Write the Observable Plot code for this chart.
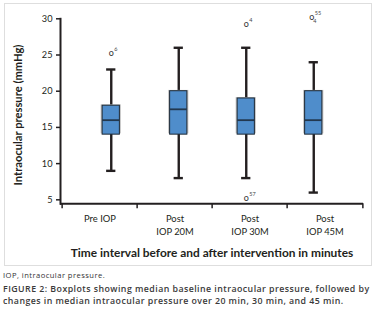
<!DOCTYPE html>
<html>
<head>
<meta charset="utf-8">
<script src="https://cdn.jsdelivr.net/npm/d3@7"></script>
<script src="https://cdn.jsdelivr.net/npm/@observablehq/plot@0.6"></script>
<style>
  body { margin: 0; background: #fff; font-family: Lato, "Open Sans", sans-serif; }
  #wrap { position: relative; width: 376px; height: 268px; }
  #border { position: absolute; left: 4px; top: 3px; width: 366px; height: 261px; border: 1.5px solid #dedede; pointer-events: none; }
  #ytitle { position: absolute; left: 17px; top: 115px; transform: translate(-50%, -50%) rotate(-90deg); font-size: 11.2px; font-weight: 700; color: #231f20; white-space: nowrap; }
  #note { position: absolute; left: 3px; top: 270px; font-family: "Open Sans", sans-serif; font-size: 7.6px; letter-spacing: 0.45px; color: #333; white-space: nowrap; }
  #cap { position: absolute; left: 3px; top: 284px; font-family: "Open Sans", sans-serif; font-size: 8.8px; letter-spacing: 0.45px; font-weight: 600; line-height: 11.7px; color: #3a3a3a; white-space: nowrap; }
</style>
</head>
<body>
<div id="wrap"><div id="border"></div><div id="ytitle"></div></div>
<div id="note">IOP, intraocular pressure.</div>
<div id="cap">FIGURE 2: Boxplots showing median baseline intraocular pressure, followed by<br>changes in median intraocular pressure over 20 min, 30 min, and 45 min.</div>
<script>
const categories = ["Pre IOP", "Post IOP 20M", "Post IOP 30M", "Post IOP 45M"];
const tickLabels = ["Pre IOP", "Post\nIOP 20M", "Post\nIOP 30M", "Post\nIOP 45M"];
const whiskerLow = [9, 8, 8, 6];
const q1 = [14, 14, 14, 14];
const medians = [16, 17.5, 16, 16];
const q3 = [18, 20, 19, 20];
const whiskerHigh = [23, 26, 26, 24];
const outlierCat = [0, 2, 2, 3];
const outlierValue = [25, 29, 5, 30];
const outlierSup = ["6", "4", "57", "55"];
const outlierSub = ["", "", "", "4"];
const yTicks = [5, 10, 15, 20, 25, 30];
const yLabel = "Intraocular pressure (mmHg)";
const xLabel = "Time interval before and after intervention in minutes";

document.getElementById("ytitle").textContent = yLabel;

const yMin = 4.45, yMax = 30;
const rows = categories.map((c, i) => ({cat: c, lo: whiskerLow[i], q1: q1[i], med: medians[i], q3: q3[i], hi: whiskerHigh[i]}));
const outliers = outlierCat.map((ci, k) => ({cat: categories[ci], ci, value: outlierValue[k], sup: outlierSup[k], sub: outlierSub[k]}));

const W = 376, ML = 60, MR = 13;
const bw = (W - ML - MR) / categories.length;
const shift = i => (1.5 - i) * 7.5;
const ink = "#231f20";

const marks = [];
rows.forEach((r, i) => {
  const dx = shift(i);
  marks.push(
    Plot.ruleX([r], {x: "cat", y1: "lo", y2: "hi", stroke: ink, strokeWidth: 2.4, dx}),
    Plot.tickY([r], {x: "cat", y: "hi", stroke: ink, strokeWidth: 2.4, insetLeft: (bw - 10) / 2, insetRight: (bw - 10) / 2, dx}),
    Plot.tickY([r], {x: "cat", y: "lo", stroke: ink, strokeWidth: 2.4, insetLeft: (bw - 10) / 2, insetRight: (bw - 10) / 2, dx}),
    Plot.barY([r], {x: "cat", y1: "q1", y2: "q3", fill: "#c4c4c4", insetLeft: (bw - 21) / 2, insetRight: (bw - 21) / 2, dx, dy: -0.8}),
    Plot.barY([r], {x: "cat", y1: "q1", y2: "q3", fill: "#4f8dcb", stroke: "#1e2a36", strokeWidth: 1, insetLeft: (bw - 18) / 2, insetRight: (bw - 18) / 2, dx}),
    Plot.tickY([r], {x: "cat", y: "med", stroke: "#22384f", strokeWidth: 1.8, insetLeft: (bw - 18) / 2, insetRight: (bw - 18) / 2, dx})
  );
});
outliers.forEach(o => {
  const dx = shift(o.ci) + (o.sub ? -2 : 0);
  marks.push(
    Plot.text([o], {x: "cat", y: "value", text: () => "o", fontSize: 9, fill: "#333", dx, dy: -2}),
    Plot.text([o], {x: "cat", y: "value", text: "sup", fontSize: 5.5, fill: "#444", textAnchor: "start", dx: dx + 3, dy: -5.5}),
    Plot.text([o], {x: "cat", y: "value", text: "sub", fontSize: 5.5, fill: "#444", textAnchor: "start", dx: dx + 1.5, dy: 2.5})
  );
});

const chart = Plot.plot({
  width: W,
  height: 268,
  marginLeft: ML,
  marginRight: MR,
  marginTop: 18.3,
  marginBottom: 268 - 203.3,
  style: {fontFamily: "Lato, 'Open Sans', sans-serif", background: "transparent", color: ink},
  x: {type: "band", domain: categories, padding: 0, axis: null},
  y: {domain: [yMin, yMax], axis: null},
  marks: [
    ...marks,
    Plot.axisY({ticks: yTicks, tickSize: 4, tickPadding: 4, fontSize: 9.2, label: null, stroke: ink, strokeWidth: 1.5}),
    Plot.axisX({tickSize: 0, tickPadding: 9, fontSize: 9.4, lineHeight: 1.38, label: null, tickFormat: c => tickLabels[categories.indexOf(c)]}),
    Plot.ruleX(categories, {x: d => d, y1: () => yMin, y2: () => yMin, insetBottom: -5, dx: -bw / 2, stroke: ink, strokeWidth: 1.5}),
    Plot.ruleX(categories.slice(-1), {x: d => d, y1: () => yMin, y2: () => yMin, insetBottom: -5, dx: bw / 2, stroke: ink, strokeWidth: 1.5}),
    Plot.ruleY([yMin], {stroke: ink, strokeWidth: 2}),
    Plot.frame({anchor: "left", stroke: ink, strokeWidth: 2}),
    Plot.text([xLabel], {frameAnchor: "bottom", text: d => d, fontSize: 11.9, fontWeight: "bold", fill: ink, dy: 53.5})
  ]
});
document.getElementById("wrap").appendChild(chart);
</script>
</body>
</html>
